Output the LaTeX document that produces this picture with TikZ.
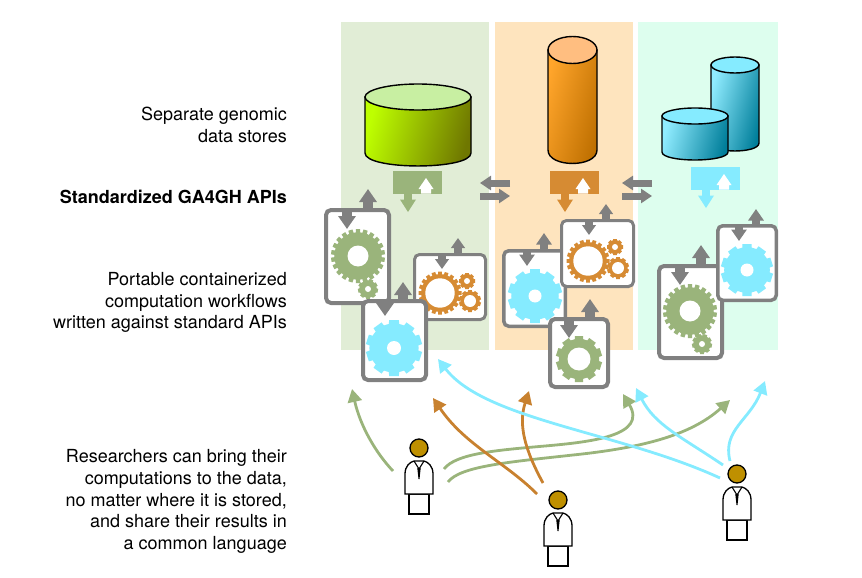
\documentclass[tikz,border=0pt]{standalone}
\usepackage{fontspec}
\setmainfont{TeX Gyre Heros}
\usetikzlibrary{arrows.meta,positioning,calc}
\definecolor{PanelGreen}{HTML}{E1EDD6}
\definecolor{PanelOrange}{HTML}{FEE4BE}
\definecolor{PanelMint}{HTML}{DDFEEE}
\definecolor{GearGreen}{HTML}{9AB47B}
\definecolor{GearOrange}{HTML}{D68B33}
\definecolor{GearCyan}{HTML}{85EBFF}
\definecolor{CurveOrange}{HTML}{C8812F}
\definecolor{BoxGray}{HTML}{808080}
\definecolor{HeadGold}{HTML}{BF9000}
\definecolor{LimeTop}{HTML}{C8EFA2}
\definecolor{LimeLeft}{HTML}{BEFF00}
\definecolor{LimeMid}{HTML}{A5DA00}
\definecolor{LimeRight}{HTML}{6F7700}
\definecolor{AmberTop}{HTML}{FFBE80}
\definecolor{AmberLeft}{HTML}{FFA52B}
\definecolor{AmberMid}{HTML}{EE9A25}
\definecolor{AmberRight}{HTML}{BE6F00}
\definecolor{SkyTop}{HTML}{85EBFF}
\definecolor{SkyLeft}{HTML}{90ECFF}
\definecolor{SkyMid}{HTML}{60CDE4}
\definecolor{SkyRight}{HTML}{007E9A}
\tikzset{
  panel/.style={fill=#1, minimum height=328pt, outer sep=0pt, inner sep=0pt},
  label/.style={align=right, anchor=east, inner sep=0pt, font=\fontsize{18}{21.8}\selectfont},
  databox/.style={draw=BoxGray, fill=white, rounded corners=5pt, inner sep=0pt, outer sep=0pt},
  arrbig/.style={draw=BoxGray, line width=9.5pt, -{Triangle[length=13pt,width=17pt]}},
  arrmid/.style={draw=BoxGray, line width=8.5pt, -{Triangle[length=11.5pt,width=15pt]}},
  arrsmall/.style={draw=BoxGray, line width=7.5pt, -{Triangle[length=10pt,width=13.5pt]}},
  swaparr/.style={draw=BoxGray, line width=7pt, -{Triangle[length=11pt,width=14pt]}},
  curve/.style={draw=#1, line width=2.8pt, -{Triangle[length=13pt,width=14pt]}},
  pics/gear/.style n args={4}{code={
    \pgfmathsetmacro\toothw{3.14*#1/#4*0.7}
    \fill[#3] (0,0) circle (#1*0.88);
    \foreach \i in {1,...,#4}
      \fill[#3, rotate=\i*360/#4] (-\toothw,0) -- (-\toothw*0.8,#1) -- (\toothw*0.8,#1) -- (\toothw,0) -- cycle;
    \fill[white] (0,0) circle (#2);
  }},
  pics/apiglyph/.style={code={
    \fill[#1] (0,0) rectangle (49,22.5);
    \fill[white] (33,7) -- (40.5,18) -- (38,18) -- (38,22.5) -- (28,22.5) -- (28,18) -- (25.5,18) -- cycle;
    \fill[#1] (11,22.5) rectangle (19,28.5);
    \fill[#1] (7,28.5) -- (23,28.5) -- (15,41) -- cycle;
  }},
  pics/person/.style={code={
    \draw[black, line width=1.3pt, fill=white] (-10,46) rectangle (10,66);
    \draw[black, line width=1.3pt, fill=white] (-14,46) -- (-14,26) .. controls (-14,18) and (-9,14) .. (-5,13) -- (5,13) .. controls (9,14) and (14,18) .. (14,26) -- (14,46) -- cycle;
    \draw[black, line width=1.1pt] (-5,13) -- (0,21) -- (5,13);
    \fill[black] (-1.7,20) -- (1.7,20) -- (0.5,31) -- (-0.5,31) -- cycle;
    \node[circle, draw=black, line width=1.3pt, fill=HeadGold, minimum size=18pt, inner sep=0pt] (-head) at (0,0) {};
  }},
}
% x1, x2, top centre y, side end y, y radius, top / left / mid / right colours
\newcommand{\drum}[9]{
  \path[draw=black, line width=1.4pt, left color=#7, middle color=#8, right color=#9, shading angle=75]
    (#1,#3) -- (#1,#4) .. controls (#1,#4+#5*1.33) and (#2,#4+#5*1.33) .. (#2,#4) -- (#2,#3) -- cycle;
  \draw[black, line width=1.4pt, fill=#6] ({(#1+#2)/2},#3) ellipse ({(#2-#1)/2} and #5);
}
\newcommand{\apibox}[6]{
  \node[databox, line width=#6pt, minimum width={(#4-#2-#6)*1pt}, minimum height={(#5-#3-#6)*1pt}] (#1) at ({(#2+#4)/2},{(#3+#5)/2}) {};
}
\newcommand{\apiarrows}[6]{
  \coordinate (#1up) at (#3,#4);
  \coordinate (#1down) at (#5,#6);
  \draw[#2] (#1.north -| #1up) -- (#1up);
  \draw[#2] (#1.north -| #1down) -- (#1down);
}
\begin{document}
\begin{tikzpicture}[x=1pt,y=-1pt]
\useasboundingbox (0,0) rectangle (862,578);
% panels
\node[panel=PanelGreen, minimum width=148pt, anchor=north west] (greenpanel) at (341,22) {};
\node[panel=PanelOrange, minimum width=138pt, right=6pt of greenpanel] (orangepanel) {};
\node[panel=PanelMint, minimum width=140pt, right=5pt of orangepanel] (mintpanel) {};
% labels
\node[label] (stores) at (287,125) {Separate genomic\\data stores};
\node[label, font=\fontsize{18}{21.8}\selectfont\bfseries] (apis) at (287,197) {Standardized GA4GH APIs};
\node[label] (flows) at (287,302.5) {Portable containerized\\computation workflows\\written against standard APIs};
\node[label] (people) at (287,501.5) {Researchers can bring their\\computations to the data,\\no matter where it is stored,\\and share their results in\\a common language};
% data stores
\drum{365}{471}{97}{153}{13}{LimeTop}{LimeLeft}{LimeMid}{LimeRight}
\drum{548}{597}{50}{150}{13.5}{AmberTop}{AmberLeft}{AmberMid}{AmberRight}
\drum{711}{759}{65}{143}{8}{SkyTop}{SkyLeft}{SkyMid}{SkyRight}
\drum{662}{728}{116}{152}{8}{SkyTop}{SkyLeft}{SkyMid}{SkyRight}
% api glyphs
\pic at (393,171) {apiglyph=GearGreen};
\pic at (550,171) {apiglyph=GearOrange};
\pic at (691,167) {apiglyph=GearCyan};
% arrows between the stores
\coordinate (swapa1) at (510,183);
\coordinate (swapa2) at (480,183);
\coordinate (swapa3) at (480,196);
\coordinate (swapa4) at (510,196);
\coordinate (swapb1) at (652,183);
\coordinate (swapb2) at (622,183);
\coordinate (swapb3) at (622,196);
\coordinate (swapb4) at (652,196);
\draw[swaparr] (swapa1) -- (swapa2);
\draw[swaparr] (swapa3) -- (swapa4);
\draw[swaparr] (swapb1) -- (swapb2);
\draw[swaparr] (swapb3) -- (swapb4);
% workflows in the green panel
\apibox{flowa}{324}{208}{391}{305}{4}
\apiarrows{flowa}{arrbig}{368}{189}{347}{229}
\pic at (358,256) {gear={27}{10.5}{GearGreen}{22}};
\pic at (368,289) {gear={10}{3}{GearGreen}{9}};
\apibox{flowb}{413}{253}{487}{321}{3}
\apiarrows{flowb}{arrsmall}{458}{238}{442}{269}
\pic at (440,293) {gear={21.5}{14.7}{GearOrange}{20}};
\pic at (467,281) {gear={8}{3}{GearOrange}{8}};
\pic at (470,301) {gear={11}{6}{GearOrange}{10}};
\apibox{flowc}{361}{299}{428}{382}{4}
\apiarrows{flowc}{arrbig}{403}{282}{385}{316}
\pic at (394,348) {gear={28}{7}{GearCyan}{10}};
% workflows in the orange panel
\apibox{flowd}{502}{249}{567}{328}{3.5}
\apiarrows{flowd}{arrmid}{544}{233}{527}{266}
\pic at (535,296) {gear={27}{6.5}{GearCyan}{10}};
\apibox{flowe}{560}{219}{635}{288}{3}
\apiarrows{flowe}{arrsmall}{606}{204}{589}{235}
\pic at (588,261) {gear={21.5}{14.7}{GearOrange}{20}};
\pic at (615,247) {gear={8}{3}{GearOrange}{8}};
\pic at (618,268) {gear={11}{6}{GearOrange}{10}};
\apibox{flowf}{548}{317}{610}{389}{4}
\apiarrows{flowf}{arrbig}{590}{299}{569}{338}
\pic at (579,359) {gear={23}{11.5}{GearGreen}{10}};
% workflows in the mint panel
\apibox{flowg}{657}{264}{724}{360}{4}
\apiarrows{flowg}{arrbig}{701}{245}{680}{285}
\pic at (690,311) {gear={27}{10.5}{GearGreen}{22}};
\pic at (702,344) {gear={10}{3}{GearGreen}{9}};
\apibox{flowh}{716}{224}{778}{302}{3.5}
\apiarrows{flowh}{arrmid}{756}{209}{739}{241}
\pic at (747,270) {gear={26}{6.5}{GearCyan}{10}};
% researchers
\pic (mana) at (419,448) {person};
\pic (manb) at (558,500) {person};
\pic (manc) at (737,474) {person};
% ends of the curves
\coordinate (fromaa) at (393,471);
\coordinate (fromab) at (444,469);
\coordinate (fromac) at (448,482);
\coordinate (fromba) at (537,494);
\coordinate (frombb) at (543,483);
\coordinate (fromca) at (720,478);
\coordinate (fromcb) at (723,465);
\coordinate (fromcc) at (730,461);
\coordinate (toaa) at (352,389);
\coordinate (toab) at (623,394);
\coordinate (toac) at (730,400);
\coordinate (toba) at (433,398);
\coordinate (tobb) at (529,391);
\coordinate (toca) at (438,359);
\coordinate (tocb) at (636,388);
\coordinate (tocc) at (765,381);
\draw[curve=GearGreen] (fromaa) .. controls (375,452) and (360,425) .. (toaa);
\draw[curve=GearGreen] (fromab) .. controls (456,453) and (500,450) .. (545,446) .. controls (590,442) and (648,436) .. (toab);
\draw[curve=GearGreen] (fromac) .. controls (460,466) and (510,462) .. (573,455) .. controls (640,448) and (690,436) .. (toac);
\draw[curve=CurveOrange] (fromba) .. controls (505,462) and (465,445) .. (toba);
\draw[curve=CurveOrange] (frombb) .. controls (525,450) and (518,425) .. (tobb);
\draw[curve=GearCyan] (fromca) .. controls (620,432) and (485,420) .. (toca);
\draw[curve=GearCyan] (fromcb) .. controls (680,436) and (655,425) .. (tocb);
\draw[curve=GearCyan] (fromcc) .. controls (722,430) and (750,420) .. (tocc);
\end{tikzpicture}
\end{document}
